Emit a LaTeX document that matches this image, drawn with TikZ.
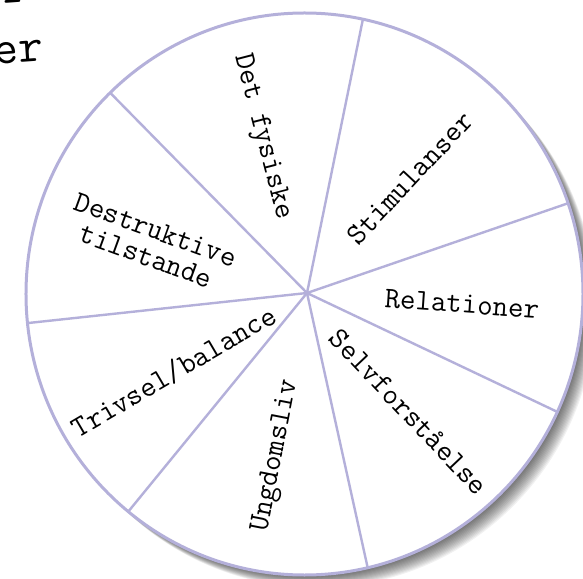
\documentclass[tikz,border=0pt]{standalone}
\usepackage{fontspec}
\usetikzlibrary{shapes.geometric}
\definecolor{wheelline}{RGB}{180,176,218}

\begin{document}
\begin{tikzpicture}[x=1pt,y=1pt,
  seglabel/.style={font=\ttfamily\fontsize{30}{28}\selectfont, inner sep=0pt},
  titletext/.style={font=\ttfamily\fontsize{48}{50}\selectfont, inner sep=0pt, anchor=base east}]
\useasboundingbox (-307,-285) rectangle (276,293);
% title, cut off by the page edge
\node[titletext, rotate=4] (titletop) at (-279,291) {r};
\node[titletext, rotate=4] (titlebot) at (-263,232) {er};
% soft shadow
\foreach \s in {1,...,14}
  \fill[black, opacity=0.055] (-2.5+0.9*\s,-1-0.9*\s) ellipse[x radius=278.5, y radius=281];
\node[ellipse, draw=wheelline, fill=white, line width=3pt, minimum width=557pt,
  minimum height=562pt, inner sep=0pt, outer sep=0pt] (wheel) at (-2.5,-1) {};
\coordinate (hub) at (0,0);
\foreach \a in {78.3,19.9,335.3,283.8,231.3,186.6,134.8}
  \draw[wheelline, line width=2.4pt] (hub) -- (wheel.\a);
% segment labels
\node[seglabel, rotate=-75.5] (fysisk) at (-45,156) {Det fysiske};
\node[seglabel, rotate=47] (stimul) at (103,115) {Stimulanser};
\node[seglabel, rotate=-4] (relat) at (155,-11) {Relationer};
\node[seglabel, rotate=-46.6] (selv) at (102,-119) {Selvforståelse};
\node[seglabel, rotate=79] (ungdom) at (-31,-163) {Ungdomsliv};
\node[seglabel, rotate=30.4] (trivsel) at (-133,-79) {Trivsel/balance};
\node[seglabel, rotate=-20, align=center] (destr) at (-156,50) {Destruktive\\tilstande};
\end{tikzpicture}
\end{document}
